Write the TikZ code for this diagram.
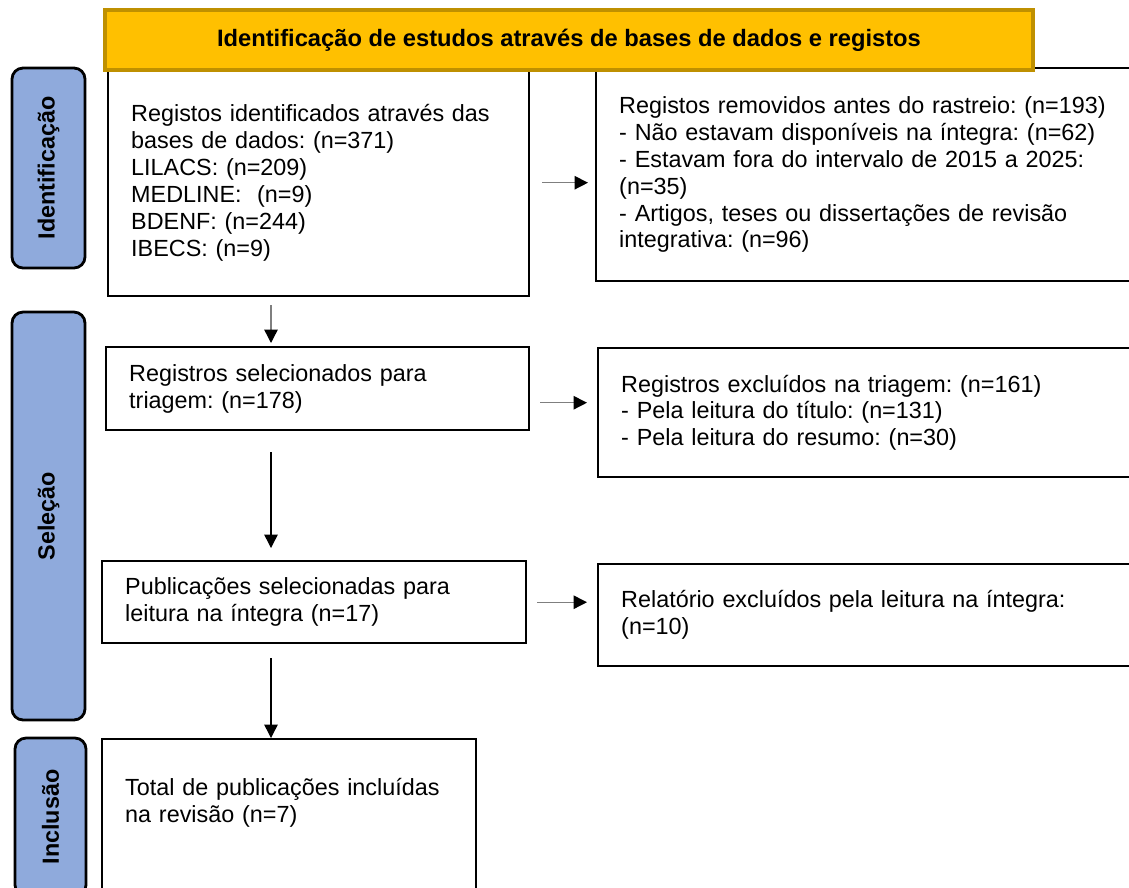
\documentclass[tikz,border=0pt]{standalone}
\usepackage{fontspec}
\setmainfont{Liberation Sans}
\usetikzlibrary{arrows.meta}
\frenchspacing

\definecolor{ouro}{HTML}{FFC000}
\definecolor{ouroescuro}{HTML}{BF9000}
\definecolor{azul}{HTML}{8FAADC}
\definecolor{cinza}{HTML}{7F7F7F}

\begin{document}
\begin{tikzpicture}[
    x=0.02cm, y=-0.02cm,
    every node/.style={font=\fontsize{13.3}{15.3}\selectfont}
  ]

  \tikzset{
    caixa/.style={draw=black, line width=1.4pt, anchor=north west, align=left, inner xsep=0.46cm, inner ysep=0pt},
    barra/.style={draw=black, line width=1.6pt, fill=azul, rounded corners=0.22cm, rotate=90, inner sep=0pt, font=\fontsize{13.3}{15.3}\selectfont\bfseries},
    faixa/.style={draw=ouroescuro, fill=ouro, line width=2.2pt, minimum width=18.56cm, minimum height=1.2cm, font=\fontsize{13.5}{15.3}\selectfont\bfseries},
    setacinza/.style={draw=cinza, line width=0.8pt, -{Triangle[length=0.27cm, width=0.27cm, color=black]}},
    setapreta/.style={draw=black, line width=0.8pt, -{Triangle[length=0.27cm, width=0.27cm, color=black]}}
  }

  \useasboundingbox (0,0) rectangle (1129,887);

  % Identificação
  \node[caixa, text width=7.5cm, minimum height=4.54cm] (registos) at (107,68) {Registos identificados através das\\ bases de dados: (n=371)\\ LILACS: (n=209)\\ MEDLINE: \ (n=9)\\ BDENF: (n=244)\\ IBECS: (n=9)};
  \node[caixa, text width=9.88cm, minimum height=4.26cm] (removidos) at (595,67) {Registos removidos antes do rastreio: (n=193)\\ - Não estavam disponíveis na íntegra: (n=62)\\ - Estavam fora do intervalo de 2015 a 2025:\\ (n=35)\\ - Artigos, teses ou dissertações de revisão\\ integrativa: (n=96)};

  \node[faixa] (titulo) at (569,40) {Identificação de estudos através de bases de dados e registos};

  % Seleção
  \node[caixa, text width=7.54cm, minimum height=1.66cm] (triagem) at (105,346) {Registros selecionados para\\ triagem: (n=178)};
  \node[caixa, text width=9.84cm, minimum height=2.58cm] (excluidos) at (597,347) {Registros excluídos na triagem: (n=161)\\ - Pela leitura do título: (n=131)\\ - Pela leitura do resumo: (n=30)};

  \node[caixa, text width=7.56cm, minimum height=1.64cm] (leitura) at (101,560) {Publicações selecionadas para\\ leitura na íntegra (n=17)};
  \node[caixa, text width=9.84cm, minimum height=2.04cm] (relatorio) at (597,563) {Relatório excluídos pela leitura na íntegra:\\ (n=10)};

  % Inclusão
  \node[caixa, text width=6.56cm, inner ysep=0.78cm, text depth=3cm] (total) at (101,738) {Total de publicações incluídas\\ na revisão (n=7)};

  % barras laterais
  \node[barra, minimum width=4.0cm, minimum height=1.46cm] (fase1) at (48.5,168) {Identificação};
  \node[barra, minimum width=8.16cm, minimum height=1.46cm] (fase2) at (48.5,516) {Seleção};
  \node[barra, minimum width=3.16cm, minimum height=1.42cm] (fase3) at (50.5,817) {Inclusão};

  % setas
  \coordinate (eixo) at (271,0);
  \draw[setacinza, shorten <=0.16cm, shorten >=0.06cm] (registos.south -| eixo) -- (triagem.north -| eixo);
  \draw[setapreta, shorten <=0.42cm, shorten >=0.24cm] (triagem.south -| eixo) -- (leitura.north -| eixo);
  \draw[setapreta, shorten <=0.28cm] (leitura.south -| eixo) -- (total.north -| eixo);

  \draw[setacinza, shorten <=0.24cm, shorten >=0.14cm] (registos.east) -- (registos.east -| removidos.west);
  \draw[setacinza, shorten <=0.2cm, shorten >=0.2cm] ([yshift=-0.28cm]triagem.east) -- ([yshift=-0.28cm]triagem.east -| excluidos.west);
  \draw[setacinza, shorten <=0.2cm, shorten >=0.2cm] (leitura.east) -- (leitura.east -| relatorio.west);

\end{tikzpicture}
\end{document}
